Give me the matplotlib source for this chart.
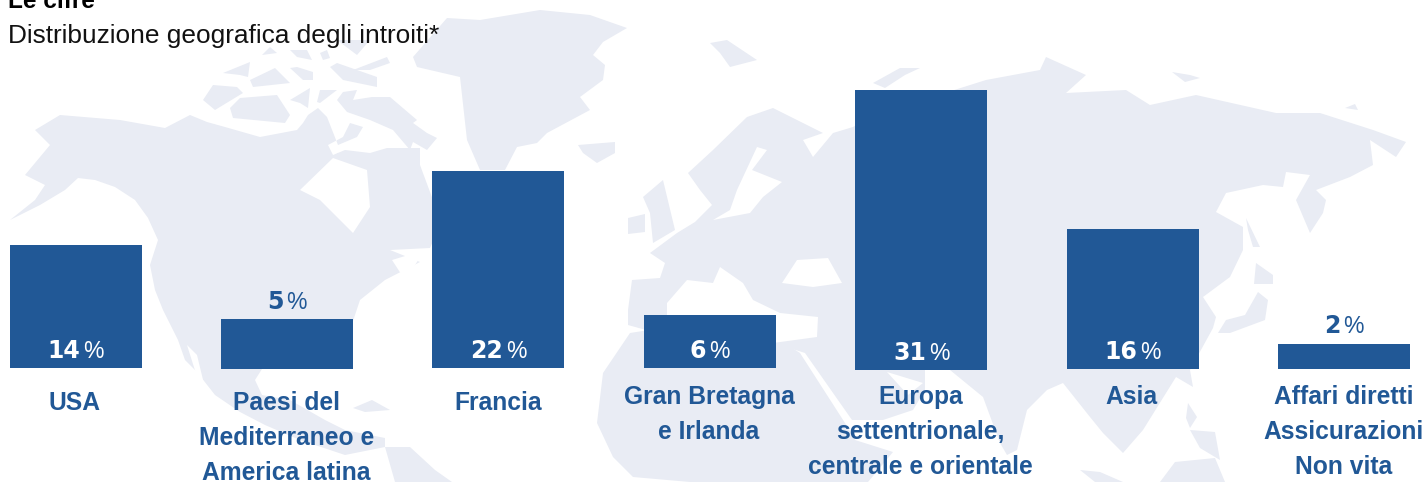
import matplotlib
matplotlib.use("Agg")
import matplotlib.pyplot as plt
from matplotlib.patches import Polygon

W, H = 1423, 482
BLUE = "#215896"
MAP = "#E9ECF4"
FONT = "Liberation Sans"

# --- data -------------------------------------------------------------
categories = ["USA", "Paesi del\nMediterraneo e\nAmerica latina", "Francia",
              "Gran Bretagna\ne Irlanda", "Europa\nsettentrionale,\ncentrale e orientale",
              "Asia", "Affari diretti\nAssicurazioni\nNon vita"]
shares = [14, 5, 22, 6, 31, 16, 2]                       # printed labels
bar_heights = [13.7, 5.55, 21.9, 5.9, 31.1, 15.55, 2.8]  # as drawn in the picture
bar_bottoms = [0, -0.11, 0, 0, -0.22, -0.11, -0.11]
labels_inside = [True, False, True, True, True, True, False]
label_rows_y = [403, 403, 403, 397, 397, 397, 397]

# --- decorative background map, traced in image pixels ------------------
land = [
    # North America
    [(10,220),(40,205),(65,190),(78,178),(95,180),(115,187),(135,200),(148,218),(158,240),(150,265),
     (155,290),(163,310),(178,340),(185,360),(197,372),(215,395),(240,412),(265,425),(300,440),(345,455),
     (385,447),(385,438),(345,430),(325,420),(290,400),(262,395),(255,380),(262,369),(335,369),(345,345),
     (360,300),(385,280),(420,262),(390,250),(430,248),(440,225),(433,200),(420,165),(420,148),(387,148),
     (370,153),(345,150),(333,155),(328,145),(343,137),(350,123),(363,127),(357,137),(338,145),(327,117),
     (318,108),(308,115),(303,123),(297,130),(260,137),(225,127),(207,122),(190,115),(165,128),(120,120),
     (60,115),(35,130),(50,145),(25,175),(45,185),(35,200)],
    # Arctic islands
    [(223,73),(250,62),(248,77),(240,75)],
    [(203,100),(213,85),(237,87),(243,93),(215,110)],
    [(230,108),(240,98),(277,95),(290,115),(285,123),(233,118)],
    [(250,80),(275,68),(290,83),(253,87)],
    [(262,55),(270,47),(277,53)],
    [(290,50),(307,50),(312,60),(297,57)],
    [(320,53),(327,50),(330,58),(323,60)],
    [(330,67),(337,63),(377,77),(377,87),(343,80)],
    [(290,68),(297,67),(313,72),(313,80),(303,80)],
    [(317,102),(320,90),(337,90),(320,103)],
    [(290,100),(310,88),(308,108),(300,103)],
    [(337,100),(343,92),(357,90),(353,100),(372,97),(390,97),(417,120),(413,123),(427,133),(437,138),
     (427,150),(413,142),(410,150),(393,130),(370,120),(347,112)],
    [(353,70),(387,57),(390,63),(370,70)],
    [(337,40),(357,55),(370,40)],
    [(337,153),(353,157),(343,163)],
    # Greenland
    [(413,57),(447,18),(480,20),(540,10),(590,15),(627,28),(603,42),(593,55),(605,65),(603,80),(580,97),
     (590,110),(547,133),(537,143),(517,147),(505,170),(480,170),(467,140),(460,77),(417,67)],
    # Iceland, Svalbard
    [(578,145),(615,142),(615,153),(597,163),(583,153)],
    [(710,43),(727,40),(757,60),(730,67),(720,53)],
    # Eurasia
    [(628,310),(632,280),(660,278),(665,263),(650,253),(677,233),(695,222),(712,205),(700,190),(688,173),
     (713,150),(747,117),(773,108),(823,133),(803,140),(813,157),(833,133),(853,127),(875,115),(986,80),
     (1040,70),(1046,57),(1086,75),(1066,93),(1126,90),(1150,105),(1196,95),(1276,113),(1320,113),
     (1373,130),(1406,142),(1396,157),(1370,140),(1373,165),(1350,177),(1316,190),(1326,200),(1323,213),
     (1310,233),(1296,200),(1310,175),(1286,172),(1283,187),(1263,185),(1226,193),(1216,212),(1243,227),
     (1243,250),(1230,277),(1203,297),(1216,317),(1213,328),(1190,370),(1193,387),(1176,377),(1143,430),
     (1123,453),(1103,433),(1090,417),(1063,383),(1047,390),(1027,410),(1017,450),(1007,455),(1000,443),
     (983,397),(950,370),(925,370),(925,390),(913,410),(883,420),(852,420),(805,353),(780,345),(700,345),
     (628,325)],
    # Novaya Zemlya
    [(873,83),(900,68),(920,68),(905,75),(885,88)],
    # Africa
    [(630,333),(603,373),(597,423),(613,457),(633,477),(690,482),(868,482),(893,452),(855,440),(845,423),
     (800,353),(780,340),(680,325)],
    # British Isles
    [(643,197),(663,180),(675,230),(653,243),(650,213)],
    [(628,218),(645,214),(645,232),(628,234)],
    # Japan, Sakhalin, islands
    [(1258,292),(1268,300),(1265,320),(1230,333),(1218,333),(1226,320),(1245,315)],
    [(1256,263),(1273,275),(1273,284),(1254,284)],
    [(1246,218),(1260,247),(1253,247),(1248,230)],
    [(1172,72),(1190,75),(1200,78),(1185,82)],
    [(1345,108),(1355,104),(1358,110)],
    [(1188,403),(1197,417),(1190,428),(1186,418)],
    [(1190,430),(1215,432),(1220,460),(1200,448)],
    [(1160,482),(1175,462),(1215,458),(1225,482)],
    [(1080,470),(1100,472),(1123,482),(1095,482)],
    # South America, Cuba
    [(385,447),(410,447),(435,470),(452,482),(395,482)],
    [(353,408),(372,400),(390,410),(365,412)],
]
water = [
    # Hudson Bay, St Lawrence, Baja sliver
    [(300,190),(333,158),(367,170),(370,207),(353,233),(340,220),(320,200)],
    [(392,260),(425,250),(405,280)],
    [(187,345),(197,355),(205,388),(198,380)],
    # Baltic, Med, Black Sea, Persian Gulf
    [(713,220),(730,210),(737,190),(757,147),(767,150),(752,170),(782,182),(763,197),(750,213)],
    [(667,303),(687,280),(713,283),(720,267),(743,283),(753,300),(780,313),(818,317),(817,337),(773,343),(667,343)],
    [(782,283),(797,260),(828,258),(842,283),(813,287)],
    [(887,372),(923,383),(908,395)],
]

# --- figure -----------------------------------------------------------
fig = plt.figure(figsize=(W / 100, H / 100), dpi=100, facecolor="white")

bg = fig.add_axes([0, 0, 1, 1], zorder=0)
bg.set_xlim(0, W)
bg.set_ylim(H, 0)
bg.axis("off")
for poly in land:
    bg.add_patch(Polygon(poly, closed=True, fc=MAP, ec="none"))
for poly in water:
    bg.add_patch(Polygon(poly, closed=True, fc="white", ec="none"))

# 1 share point = 9 px, baseline at y = 368 px
ax = fig.add_axes([0, 0, 1, 1], zorder=1)
ax.patch.set_alpha(0)
step = 211.4
x0 = 75.6
ax.set_xlim(-x0 / step, (W - x0) / step)
ax.set_ylim(-(H - 368) / 9, 368 / 9)
ax.axis("off")

xs = list(range(len(categories)))
ax.bar(xs, bar_heights, bottom=bar_bottoms, width=132 / step, color=BLUE, linewidth=0)

fig.canvas.draw()
renderer = fig.canvas.get_renderer()
for x, share, h, b, inside in zip(xs, shares, bar_heights, bar_bottoms, labels_inside):
    col = "white" if inside else BLUE
    y = b if inside else b + h
    dy = 7 if inside else 7.5
    num = ax.annotate(str(share), (x, y), xytext=(0, dy), textcoords="offset points", ha="left",
                      va="baseline", color=col, fontsize=17, fontweight="bold", family="DejaVu Sans")
    pct = ax.annotate("%", (x, y), xytext=(0, dy), textcoords="offset points", ha="left",
                      va="baseline", color=col, fontsize=16.5, family=FONT)
    nw = num.get_window_extent(renderer).width * 0.72
    pw = pct.get_window_extent(renderer).width * 0.72
    gap = 2
    total = nw + gap + pw
    num.set_position((-total / 2, dy))
    pct.set_position((-total / 2 + nw + gap, dy))

for x, cat, ypx in zip(xs, categories, label_rows_y):
    for i, line in enumerate(cat.split("\n")):
        ax.annotate(line, (x, 0), xycoords=("data", "data"),
                    xytext=(-0.5, -(ypx + 35 * i - 368) * 0.72), textcoords="offset points",
                    ha="center", va="center", color=BLUE, fontsize=17.7, fontweight="bold", family=FONT,
                    annotation_clip=False)

fig.text(8 / W, 1 - 8 / H, "Le cifre", fontsize=17.6, fontweight="bold", color="black",
         family=FONT, ha="left", va="baseline", zorder=3)
fig.text(8 / W, 1 - 43 / H, "Distribuzione geografica degli introiti*", fontsize=18.9,
         color="#111111", family=FONT, ha="left", va="baseline", zorder=3)

fig.savefig("out.png", dpi=100)
